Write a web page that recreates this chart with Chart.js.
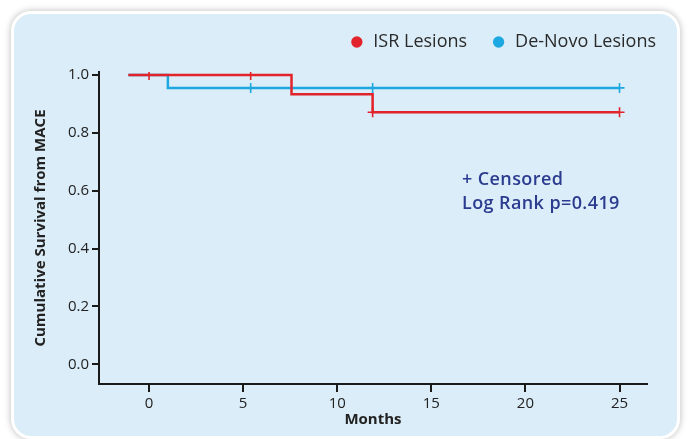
<!DOCTYPE html>
<html>
<head>
<meta charset="utf-8">
<script src="https://cdn.jsdelivr.net/npm/chart.js@4/dist/chart.umd.min.js"></script>
<style>
  html, body { margin: 0; padding: 0; background: #ffffff; }
  #wrap { position: relative; width: 688px; height: 439px; overflow: hidden; }
  #card { position: absolute; left: 11px; top: 11px; width: 663px; height: 422px;
          background: #dbedf8; border: 3px solid #ffffff; border-radius: 20px;
          box-shadow: 0 0 7px rgba(0,0,0,0.28); }
  #c { position: absolute; left: 0; top: 0; }
  #note { position: absolute; left: 462px; top: 167px; color: #2b3b8f;
          font-family: "Open Sans", sans-serif; font-weight: 600; font-size: 18px;
          letter-spacing: 0.4px; line-height: 23.5px; }
</style>
</head>
<body>
<div id="wrap">
  <div id="card"></div>
  <canvas id="c" width="688" height="439"></canvas>
  <div id="note">+ Censored<br>Log Rank p=0.419</div>
</div>
<script>
// ---- data ----
const seriesNames = ["ISR Lesions", "De-Novo Lesions"];
const isrTimes = [-1.1, 7.57, 11.88, 25];
const isrSurvival = [1.0, 0.933, 0.871, 0.871];
const denovoTimes = [-1.1, 1.0, 25];
const denovoSurvival = [1.0, 0.955, 0.955];
const isrCensorTimes = [0, 5.4, 11.88, 25];
const isrCensorSurvival = [1.0, 1.0, 0.871, 0.871];
const denovoCensorTimes = [5.4, 11.88, 25];
const denovoCensorSurvival = [0.955, 0.955, 0.955];
const xTickValues = [0, 5, 10, 15, 20, 25];
const yTickValues = [0.0, 0.2, 0.4, 0.6, 0.8, 1.0];

const RED = "#e3232b";
const BLUE = "#1ea8e1";
const FONT = "'Open Sans', sans-serif";

const pts = (xs, ys) => xs.map((x, i) => ({ x: x, y: ys[i] }));

new Chart(document.getElementById("c"), {
  type: "line",
  data: {
    datasets: [
      { label: seriesNames[0], data: pts(isrTimes, isrSurvival), stepped: true,
        borderColor: RED, backgroundColor: RED, borderWidth: 2.5, pointRadius: 0,
        pointStyle: "circle", order: 1 },
      { label: seriesNames[1], data: pts(denovoTimes, denovoSurvival), stepped: true,
        borderColor: BLUE, backgroundColor: BLUE, borderWidth: 2.5, pointRadius: 0,
        pointStyle: "circle", order: 2 },
      { label: "ISR censored", data: pts(isrCensorTimes, isrCensorSurvival), showLine: false,
        pointStyle: "cross", pointRadius: 5, pointBorderWidth: 1.6,
        borderColor: RED, backgroundColor: RED, order: 0 },
      { label: "De-Novo censored", data: pts(denovoCensorTimes, denovoCensorSurvival), showLine: false,
        pointStyle: "cross", pointRadius: 5, pointBorderWidth: 1.6,
        borderColor: BLUE, backgroundColor: BLUE, order: 1.5 }
    ]
  },
  options: {
    responsive: false,
    animation: false,
    events: [],
    layout: { padding: { left: 22, right: 8, top: 9, bottom: 10 } },
    plugins: {
      tooltip: { enabled: false },
      legend: {
        position: "top",
        align: "end",
        labels: {
          usePointStyle: true,
          pointStyle: "circle",
          boxWidth: 15,
          boxHeight: 8,
          padding: 24,
          color: "#2a2a2a",
          font: { family: FONT, size: 18 },
          filter: (item) => item.datasetIndex < 2,
          generateLabels: (chart) =>
            Chart.defaults.plugins.legend.labels.generateLabels(chart)
              .map(l => Object.assign(l, { lineWidth: 0 }))
        }
      },
      subtitle: {
        display: true, text: "", weight: 500,
        font: { size: 1, lineHeight: 1 }, padding: { top: 10, bottom: 0 }
      }
    },
    scales: {
      x: {
        type: "linear",
        min: -2.66, max: 26.46,
        afterFit: (s) => { s.height = 45; },
        afterBuildTicks: (s) => { s.ticks = xTickValues.map(v => ({ value: v })); },
        border: { display: true, color: "#1a1a1a", width: 2 },
        grid: { drawOnChartArea: false, drawTicks: true, tickLength: 8, color: "#1a1a1a", lineWidth: 2 },
        ticks: { color: "#222", font: { family: FONT, size: 15 }, padding: 3, maxRotation: 0 },
        title: { display: true, text: "Months", color: "#222",
                 font: { family: FONT, size: 15, weight: "bold" }, padding: { top: 0, bottom: 0 } }
      },
      y: {
        type: "linear",
        min: -0.068, max: 1.01,
        afterFit: (s) => { s.width = 77; },
        afterBuildTicks: (s) => { s.ticks = yTickValues.map(v => ({ value: v })); },
        border: { display: true, color: "#1a1a1a", width: 2 },
        grid: { drawOnChartArea: false, drawTicks: true, tickLength: 7, color: "#1a1a1a", lineWidth: 2 },
        ticks: { color: "#222", font: { family: FONT, size: 15 }, padding: 3,
                 callback: (v) => Number(v).toFixed(1) },
        title: { display: true, text: "Cumulative Survival from MACE", color: "#222",
                 font: { family: FONT, size: 15, weight: "bold" }, padding: { top: 10, bottom: 0 } }
      },
      yRightSpace: {
        type: "linear", position: "right", display: true,
        afterFit: (s) => { s.width = 33; },
        border: { display: false }, grid: { display: false }, ticks: { display: false }
      }
    }
  }
});
</script>
</body>
</html>
